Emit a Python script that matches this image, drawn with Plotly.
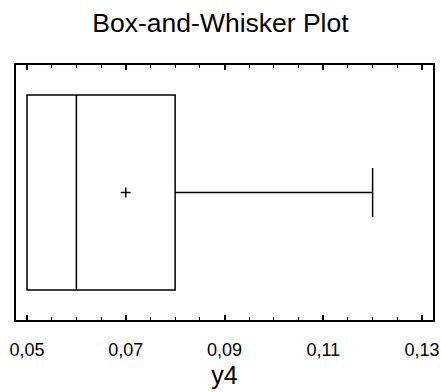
import plotly.graph_objects as go

# Data
variable = ["y4"]
q1 = [0.05]
median = [0.06]
q3 = [0.08]
lower_whisker = [0.05]
upper_whisker = [0.12]
mean = [0.07]
tick_vals = [0.05, 0.07, 0.09, 0.11, 0.13]

fig = go.Figure()
fig.add_trace(go.Box(
    y=[0], q1=q1, median=median, q3=q3,
    lowerfence=lower_whisker, upperfence=upper_whisker,
    orientation="h", width=0.765, whiskerwidth=0.25,
    fillcolor="rgba(0,0,0,0)", line=dict(color="black", width=1.5),
    boxpoints=False, showlegend=False, hoverinfo="skip",
))
fig.add_trace(go.Scatter(
    x=mean, y=[0], mode="markers",
    marker=dict(symbol="cross-thin", size=7, line=dict(color="black", width=1.5)),
    showlegend=False, hoverinfo="skip",
))

fig.update_layout(
    width=441, height=392,
    margin=dict(l=16, r=8, t=65, b=72, autoexpand=False),
    paper_bgcolor="white", plot_bgcolor="white",
    separators=",.",
    font=dict(family="Liberation Sans, Arial, sans-serif", color="black"),
    title=dict(text="Box-and-Whisker Plot", x=0.5, xanchor="center",
               y=1 - 23 / 392, yanchor="middle", yref="container",
               font=dict(size=26.5, color="black")),
    xaxis=dict(
        range=[0.04777, 0.13223], tickvals=tick_vals, tickformat=".2f",
        ticks="inside", ticklen=5, tickwidth=1.5, tickcolor="black",
        minor=dict(dtick=0.005, tick0=0.05, ticks="inside", ticklen=3, tickwidth=1, tickcolor="black"),
        showline=True, linecolor="black", linewidth=2, mirror="ticks",
        showgrid=False, zeroline=False, automargin=False,
        tickfont=dict(size=18), ticklabelstandoff=12,
        title=dict(text=variable[0], font=dict(size=25), standoff=8),
    ),
    yaxis=dict(
        range=[-0.5, 0.5], showticklabels=False, ticks="",
        showline=True, linecolor="black", linewidth=2, mirror=True,
        showgrid=False, zeroline=False, automargin=False,
    ),
)

fig.write_html("out.html")
